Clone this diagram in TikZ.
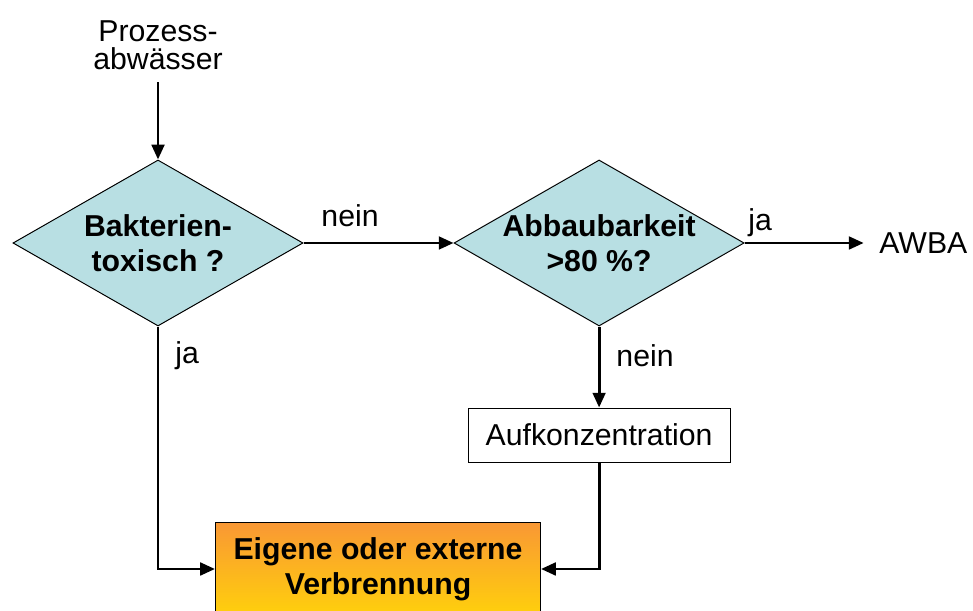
\documentclass[tikz,border=0pt]{standalone}
\usepackage{fontspec}
\setmainfont{Liberation Sans}
\usepackage{xcolor}
\usetikzlibrary{shapes.geometric, arrows.meta, positioning, calc}
\definecolor{diafill}{RGB}{184,223,227}
\definecolor{burntop}{RGB}{249,152,52}
\definecolor{burnbot}{RGB}{255,208,12}
\tikzset{
  decision/.style={
    diamond,
    aspect=1.75,
    minimum width=7.25cm,
    minimum height=4.15cm,
    inner sep=-2pt,
    draw=black,
    line width=0.7pt,
    fill=diafill,
    align=center,
    font=\bfseries\fontsize{21.5pt}{25pt}\selectfont
  },
  stepbox/.style={
    rectangle,
    minimum width=6.55cm,
    minimum height=1.35cm,
    draw=black,
    line width=0.7pt,
    fill=white,
    font=\fontsize{21.5pt}{25pt}\selectfont
  },
  sinkbox/.style={
    rectangle,
    minimum width=8.125cm,
    minimum height=2.3cm,
    draw=black,
    line width=0.7pt,
    top color=burntop,
    bottom color=burnbot,
    align=center,
    font=\bfseries\fontsize{21.5pt}{25pt}\selectfont
  },
  arrow/.style={
    line width=2pt,
    ->,
    >={Triangle[length=10.5pt, width=9pt]}
  }
}

\begin{document}
\begin{tikzpicture}[
  x=0.025cm, y=0.025cm,
  answer/.style={font=\fontsize{21.5pt}{25pt}\selectfont},
  plain/.style={font=\fontsize{21.5pt}{20pt}\selectfont, align=center}
]
  \useasboundingbox (0,0) rectangle (973,611);

  % DECISIONS
  \node (toxic) [decision] at (158,368) {Bakterien-\\toxisch ?};
  \node (degrade) [decision, right=3.75cm of toxic] {Abbaubarkeit\\>80 \%?};

  % INPUT AND OUTLET
  \node (inflow) [plain, inner ysep=9pt, above=1.925cm of toxic] {Prozess-\\abwässer};
  \node (awba) [answer, inner xsep=11pt, right=2.975cm of degrade] {AWBA};

  % TREATMENT
  \node (concentrate) [stepbox, below=2.025cm of degrade] {Aufkonzentration};
  \node (burn) [sinkbox] at (378,42) {Eigene oder externe\\Verbrennung};

  % ARROW CONNECTIONS
  \draw[arrow] (inflow) -- (toxic);
  \draw[arrow] (toxic) -- node[answer, above=7pt, pos=0.31] {nein} (degrade);
  \draw[arrow] (degrade) -- node[answer, above, pos=0.13] {ja} (awba);
  \draw[arrow] (degrade) -- node[answer, right=8pt, pos=0.36] {nein} (concentrate);
  \draw[arrow] (toxic) |- node[answer, right=8pt, pos=0.06] {ja} (burn);
  \draw[arrow] (concentrate) |- (burn);

\end{tikzpicture}
\end{document}
